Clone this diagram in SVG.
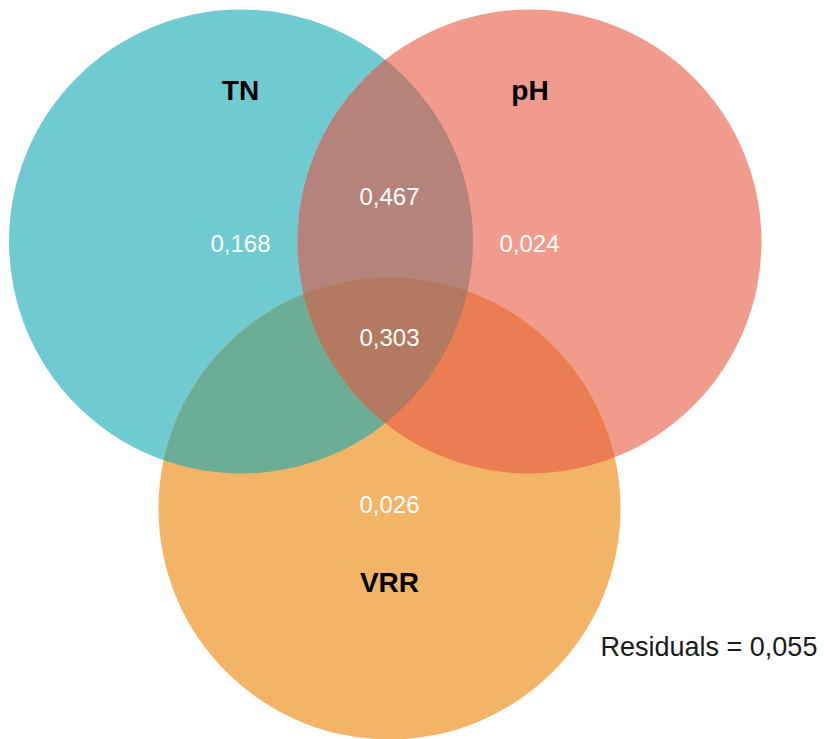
<svg xmlns="http://www.w3.org/2000/svg" width="824" height="739" viewBox="0 0 824 739">
  <style>
    .lbl { font-family: "Liberation Sans", Arial, sans-serif; font-weight: bold; font-size: 28px; fill: #000; text-anchor: middle; }
    .val { font-family: "Liberation Sans", Arial, sans-serif; font-size: 24px; fill: #fff; text-anchor: middle; }
    .res { font-family: "Liberation Sans", Arial, sans-serif; font-size: 27px; fill: #1a1a1a; }
  </style>
  <defs>
    <clipPath id="clipTN"><circle cx="241" cy="241.5" r="232"/></clipPath>
    <clipPath id="clipPH"><circle cx="529.5" cy="241.5" r="232"/></clipPath>
  </defs>
  <rect width="824" height="739" fill="#ffffff"/>
  <g id="TN">
    <circle cx="241" cy="241.5" r="232" fill="#6FCAD1"/>
  </g>
  <g id="pH">
    <circle cx="529.5" cy="241.5" r="232" fill="#F09B8C"/>
  </g>
  <g id="VRR">
    <circle cx="389.5" cy="508.5" r="231" fill="#F3B467"/>
  </g>
  <g id="overlaps">
    <g clip-path="url(#clipTN)">
      <circle cx="529.5" cy="241.5" r="232" fill="#B5837B"/>
      <circle cx="389.5" cy="508.5" r="231" fill="#6CAD96"/>
    </g>
    <g clip-path="url(#clipPH)">
      <circle cx="389.5" cy="508.5" r="231" fill="#EC7D53"/>
    </g>
    <g clip-path="url(#clipTN)">
      <g clip-path="url(#clipPH)">
        <circle cx="389.5" cy="508.5" r="231" fill="#B47A61"/>
      </g>
    </g>
  </g>
  <g id="labels">
    <text class="lbl" x="240.5" y="100">TN</text>
    <text class="lbl" x="530" y="100">pH</text>
    <text class="lbl" x="389.5" y="592">VRR</text>
    <text class="val" x="240.5" y="252">0,168</text>
    <text class="val" x="389.5" y="205">0,467</text>
    <text class="val" x="529.5" y="252">0,024</text>
    <text class="val" x="389.5" y="346">0,303</text>
    <text class="val" x="389.5" y="513">0,026</text>
    <text class="res" x="600.5" y="656">Residuals = 0,055</text>
  </g>
</svg>
